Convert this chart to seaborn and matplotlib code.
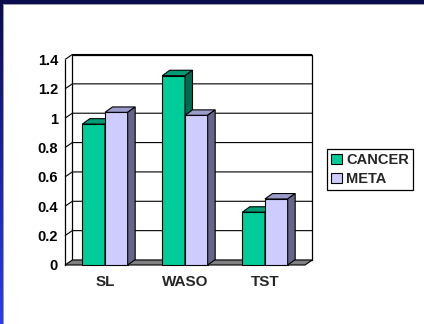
import numpy as np
import pandas as pd
import seaborn as sns
import matplotlib.pyplot as plt
from matplotlib.patches import Polygon, Rectangle
from matplotlib.colors import to_rgb

# ---- data ----
categories = ["SL", "WASO", "TST"]
series = ["CANCER", "META"]
cancer = [0.96, 1.29, 0.36]
meta = [1.04, 1.02, 0.45]
yticks = [0, 0.2, 0.4, 0.6, 0.8, 1.0, 1.2, 1.4]
ytick_labels = ["0", "0.2", "0.4", "0.6", "0.8", "1", "1.2", "1.4"]

# ---- style ----
front_cols = ["#00CC99", "#CCCCFF"]
top_cols = ["#009C76", "#9C9CCC"]
side_cols = ["#006A50", "#66668A"]
floor_col = "#808080"

sns.set_style("white")
plt.rcParams["font.family"] = ["Liberation Sans", "DejaVu Sans"]
plt.rcParams["font.weight"] = "bold"

W, H = 424, 324
fig = plt.figure(figsize=(W / 100, H / 100), dpi=100)
fig.patch.set_facecolor("white")

# slide frame: navy band along the top, navy-to-blue strip down the left
frame = np.zeros((H, W, 4))
navy = np.array(to_rgb("#0B0B4F"))
blue = np.array(to_rgb("#2A3CF2"))
grey = np.array(to_rgb("#9A9AA8"))
frame[:4, :, :3] = navy
frame[4, 3:, :3] = grey
t = np.linspace(0, 1, H)[:, None]
strip = navy * (1 - t) + blue * t
frame[:, :3, :3] = strip[:, None, :]
frame[5:, 3, :3] = grey
frame[:4, :, 3] = 1
frame[4, 3:, 3] = 1
frame[:, :3, 3] = 1
frame[5:, 3, 3] = 1
fig.figimage(frame, xo=0, yo=0, origin="upper", zorder=0)

# ---- plot area (front plane of the 3D box) ----
left_px, right_px, base_px, top_px = 65, 305, 265, 59.5
ax = fig.add_axes([left_px / W, (H - base_px) / H,
                   (right_px - left_px) / W, (base_px - top_px) / H])
ax.set_facecolor("none")

df = pd.DataFrame({
    "category": categories * 2,
    "series": [series[0]] * 3 + [series[1]] * 3,
    "value": cancer + meta,
})
sns.barplot(data=df, x="category", y="value", hue="series", palette=front_cols,
            saturation=1, width=0.567, edgecolor="black", linewidth=0.8,
            legend=False, ax=ax)
bars = list(ax.patches)

ax.set_xlim(-0.5, 2.5)
ax.set_ylim(0, 1.4)

# depth offsets expressed in data units
sx = 3.0 / (right_px - left_px)
sy = 1.4 / (base_px - top_px)
DX, DY = 7.3 * sx, 5.0 * sy      # walls
BX, BY = 7.5 * sx, 5.4 * sy      # bars

x0, x1 = -0.5, 2.5
# back wall
ax.add_patch(Polygon([(x0 + DX, DY), (x1 + DX, DY), (x1 + DX, 1.4 + DY), (x0 + DX, 1.4 + DY)],
                     closed=True, facecolor="white", edgecolor="black", lw=0.9,
                     zorder=0.5, clip_on=False))
# gridlines on back wall and left wall
for y in yticks[1:]:
    ax.plot([x0, x0 + DX, x1 + DX], [y, y + DY, y + DY], color="black", lw=0.8,
            zorder=0.6, clip_on=False, solid_capstyle="butt")
# floor
ax.add_patch(Polygon([(x0, 0), (x1, 0), (x1 + DX, DY), (x0 + DX, DY)], closed=True,
                     facecolor=floor_col, edgecolor="black", lw=0.8, zorder=0.7, clip_on=False))

# give the bars depth: top and side faces
bars_sorted = sorted(bars, key=lambda p: p.get_x())
for k, p in enumerate(bars_sorted):
    xl, w, h = p.get_x(), p.get_width(), p.get_height()
    xr = xl + w
    s = 0 if np.allclose(p.get_facecolor()[:3], to_rgb(front_cols[0])) else 1
    z = 2 + k * 0.1
    p.set_zorder(z)
    p.set_clip_on(False)
    ax.add_patch(Polygon([(xl, h), (xr, h), (xr + BX, h + BY), (xl + BX, h + BY)], closed=True,
                         facecolor=top_cols[s], edgecolor="black", lw=0.8, zorder=z + 0.01,
                         clip_on=False))
    ax.add_patch(Polygon([(xr, 0), (xr + BX, BY), (xr + BX, h + BY), (xr, h)], closed=True,
                         facecolor=side_cols[s], edgecolor="black", lw=0.8, zorder=z + 0.01,
                         clip_on=False))

# axes, ticks and labels
for sp in ["top", "right", "bottom"]:
    ax.spines[sp].set_visible(False)
ax.spines["left"].set_color("black")
ax.spines["left"].set_linewidth(0.9)
ax.spines["left"].set_zorder(1)
ax.set_yticks(yticks)
ax.set_yticklabels(ytick_labels, fontsize=10.5, fontweight="bold")
ax.tick_params(axis="y", direction="out", length=3, width=0.8, pad=2, colors="black")
ax.set_xticks(range(len(categories)))
ax.set_xticklabels(categories, fontsize=11, fontweight="bold")
ax.set_xticks([-0.5, 0.5, 1.5, 2.5], minor=True)
ax.tick_params(axis="x", which="major", length=0, pad=7.5)
ax.tick_params(axis="x", which="minor", direction="out", length=3, width=0.8, colors="black")
ax.set_xlabel("")
ax.set_ylabel("")

# legend
handles = [Rectangle((0, 0), 1, 1, facecolor=front_cols[i], edgecolor="black", lw=0.8)
           for i in range(2)]
leg = fig.legend(handles, series, loc="upper left", bbox_to_anchor=(327 / W, 1 - 149 / H),
                 frameon=True, fancybox=False, edgecolor="black", framealpha=1,
                 prop={"weight": "bold", "size": 10.5}, handlelength=0.7, handleheight=0.7,
                 handletextpad=0.3, labelspacing=0.3, borderpad=0.3, borderaxespad=0)
leg.get_frame().set_linewidth(0.9)

fig.savefig("out.png", dpi=100)
